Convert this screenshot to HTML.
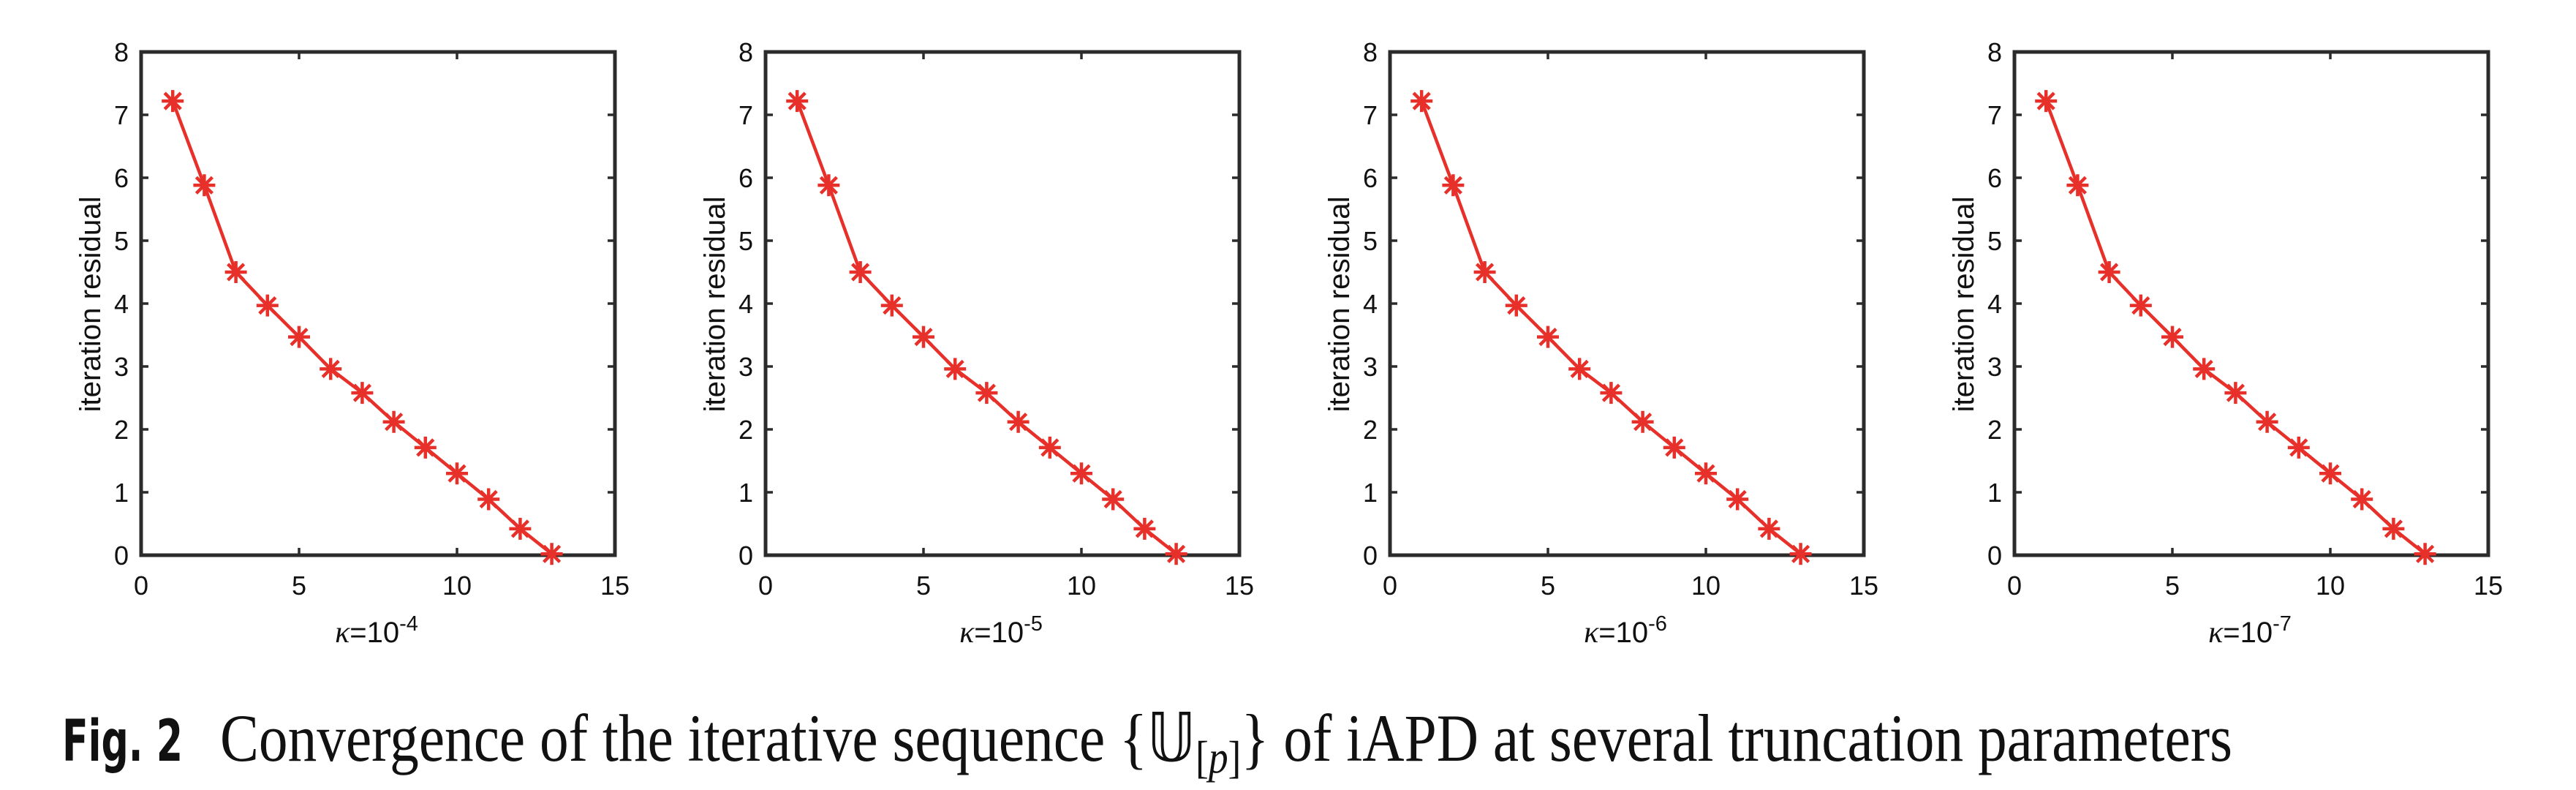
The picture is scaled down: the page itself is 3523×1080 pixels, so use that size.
<!DOCTYPE html>
<html><head><meta charset="utf-8"><style>html,body{margin:0;padding:0;background:#fff}svg{display:block}</style></head><body>
<svg width="3523" height="1080" viewBox="0 0 3523 1080" xmlns="http://www.w3.org/2000/svg">
<defs>
<g id="star"><path d="M-15 0H15M0 -15V15M-11 -11L11 11M-11 11L11 -11" stroke="#e8302a" stroke-width="4.5" fill="none"/></g>
<g id="body">
<rect x="193" y="71" width="648" height="688" fill="none" stroke="#2b2b2b" stroke-width="5"/>
<path d="M193 157h10M193 243h10M193 329h10M193 415h10M193 501h10M193 587h10M193 673h10M841 157h-10M841 243h-10M841 329h-10M841 415h-10M841 501h-10M841 587h-10M841 673h-10M409 759v-10M625 759v-10M409 71v10M625 71v10" stroke="#2b2b2b" stroke-width="3.5"/>
<polyline points="236.2,138.1 279.4,253.3 322.6,372 365.8,417.6 409,460.6 452.2,504.4 495.4,537.1 538.6,576.7 581.8,611.9 625,647.2 668.2,682.5 711.4,722.9 754.6,757.3" fill="none" stroke="#e8302a" stroke-width="4.5"/>
<use href="#star" x="236.2" y="138.1"/><use href="#star" x="279.4" y="253.3"/><use href="#star" x="322.6" y="372"/><use href="#star" x="365.8" y="417.6"/><use href="#star" x="409" y="460.6"/><use href="#star" x="452.2" y="504.4"/><use href="#star" x="495.4" y="537.1"/><use href="#star" x="538.6" y="576.7"/><use href="#star" x="581.8" y="611.9"/><use href="#star" x="625" y="647.2"/><use href="#star" x="668.2" y="682.5"/><use href="#star" x="711.4" y="722.9"/><use href="#star" x="754.6" y="757.3"/>
</g>
</defs>
<g font-family="Liberation Sans, sans-serif" font-size="36" fill="#111">
<g>
<use href="#body"/>
<g text-anchor="end"><text x="176" y="84">8</text><text x="176" y="170">7</text><text x="176" y="256">6</text><text x="176" y="342">5</text><text x="176" y="428">4</text><text x="176" y="514">3</text><text x="176" y="600">2</text><text x="176" y="686">1</text><text x="176" y="772">0</text></g>
<g text-anchor="middle"><text x="193" y="813">0</text><text x="409" y="813">5</text><text x="625" y="813">10</text><text x="841" y="813">15</text></g>
<text transform="translate(137,416) rotate(-90)" text-anchor="middle" font-size="40" textLength="295" lengthAdjust="spacingAndGlyphs">iteration residual</text>
<text x="515" y="878" text-anchor="middle" font-size="40"><tspan font-family="Liberation Serif, serif" font-style="italic" font-size="42">κ</tspan>=10<tspan dy="-16" font-size="29">-4</tspan></text>
</g>
<g transform="translate(854,0)">
<use href="#body"/>
<g text-anchor="end"><text x="176" y="84">8</text><text x="176" y="170">7</text><text x="176" y="256">6</text><text x="176" y="342">5</text><text x="176" y="428">4</text><text x="176" y="514">3</text><text x="176" y="600">2</text><text x="176" y="686">1</text><text x="176" y="772">0</text></g>
<g text-anchor="middle"><text x="193" y="813">0</text><text x="409" y="813">5</text><text x="625" y="813">10</text><text x="841" y="813">15</text></g>
<text transform="translate(137,416) rotate(-90)" text-anchor="middle" font-size="40" textLength="295" lengthAdjust="spacingAndGlyphs">iteration residual</text>
<text x="515" y="878" text-anchor="middle" font-size="40"><tspan font-family="Liberation Serif, serif" font-style="italic" font-size="42">κ</tspan>=10<tspan dy="-16" font-size="29">-5</tspan></text>
</g>
<g transform="translate(1708,0)">
<use href="#body"/>
<g text-anchor="end"><text x="176" y="84">8</text><text x="176" y="170">7</text><text x="176" y="256">6</text><text x="176" y="342">5</text><text x="176" y="428">4</text><text x="176" y="514">3</text><text x="176" y="600">2</text><text x="176" y="686">1</text><text x="176" y="772">0</text></g>
<g text-anchor="middle"><text x="193" y="813">0</text><text x="409" y="813">5</text><text x="625" y="813">10</text><text x="841" y="813">15</text></g>
<text transform="translate(137,416) rotate(-90)" text-anchor="middle" font-size="40" textLength="295" lengthAdjust="spacingAndGlyphs">iteration residual</text>
<text x="515" y="878" text-anchor="middle" font-size="40"><tspan font-family="Liberation Serif, serif" font-style="italic" font-size="42">κ</tspan>=10<tspan dy="-16" font-size="29">-6</tspan></text>
</g>
<g transform="translate(2562,0)">
<use href="#body"/>
<g text-anchor="end"><text x="176" y="84">8</text><text x="176" y="170">7</text><text x="176" y="256">6</text><text x="176" y="342">5</text><text x="176" y="428">4</text><text x="176" y="514">3</text><text x="176" y="600">2</text><text x="176" y="686">1</text><text x="176" y="772">0</text></g>
<g text-anchor="middle"><text x="193" y="813">0</text><text x="409" y="813">5</text><text x="625" y="813">10</text><text x="841" y="813">15</text></g>
<text transform="translate(137,416) rotate(-90)" text-anchor="middle" font-size="40" textLength="295" lengthAdjust="spacingAndGlyphs">iteration residual</text>
<text x="515" y="878" text-anchor="middle" font-size="40"><tspan font-family="Liberation Serif, serif" font-style="italic" font-size="42">κ</tspan>=10<tspan dy="-16" font-size="29">-7</tspan></text>
</g>
</g>
<text x="85" y="1040" font-family="DejaVu Sans, sans-serif" font-weight="bold" font-size="78" fill="#111" textLength="165" lengthAdjust="spacingAndGlyphs">Fig. 2</text>
<text x="301" y="1040" font-family="Liberation Serif, DejaVu Serif, serif" font-size="92" fill="#111" textLength="2752" lengthAdjust="spacingAndGlyphs">Convergence of the iterative sequence {<tspan font-family="DejaVu Sans, serif">𝕌</tspan><tspan font-size="62" dy="16">[<tspan font-style="italic">p</tspan>]</tspan><tspan dy="-16">} of iAPD at several truncation parameters</tspan></text>
</svg>
</body></html>
